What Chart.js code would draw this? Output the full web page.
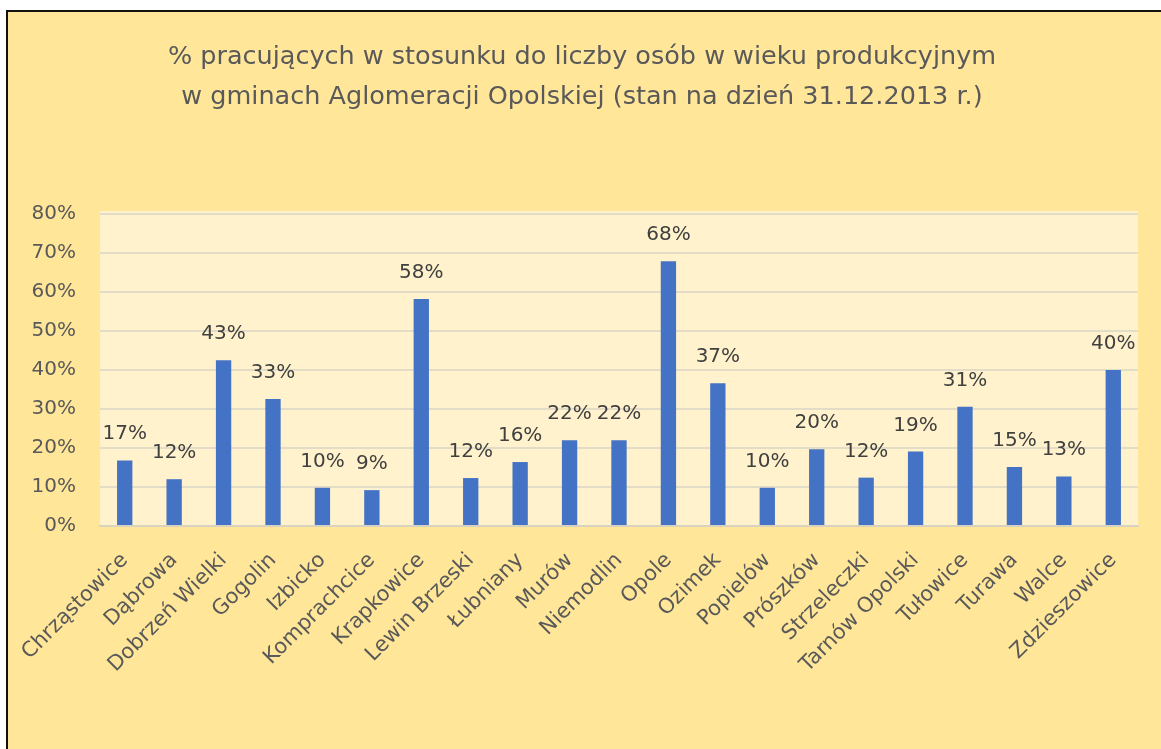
<!DOCTYPE html>
<html>
<head>
<meta charset="utf-8">
<script src="https://cdn.jsdelivr.net/npm/chart.js@4/dist/chart.umd.min.js"></script>
<style>
  html, body { margin: 0; padding: 0; background: #fff; overflow: hidden; }
  #frame {
    position: absolute; left: 6px; top: 10px;
    width: 1200px; height: 800px;
    border-left: 2px solid #111; border-top: 2px solid #111;
    background: #FFE699;
  }
  #chart { display: block; }
</style>
</head>
<body>
<div id="frame"><canvas id="chart" width="1153" height="737"></canvas></div>
<script>
// gminy Aglomeracji Opolskiej
const gminy = ['Chrząstowice', 'Dąbrowa', 'Dobrzeń Wielki', 'Gogolin', 'Izbicko', 'Komprachcice',
  'Krapkowice', 'Lewin Brzeski', 'Łubniany', 'Murów', 'Niemodlin', 'Opole', 'Ozimek', 'Popielów',
  'Prószków', 'Strzeleczki', 'Tarnów Opolski', 'Tułowice', 'Turawa', 'Walce', 'Zdzieszowice'];
// % pracujących
const pracujacy = [16.8, 12.0, 42.5, 32.6, 9.8, 9.2, 58.2, 12.3, 16.4, 22.0, 22.0, 67.9, 36.6, 9.8,
  19.7, 12.4, 19.1, 30.6, 15.1, 12.7, 40.0];
const tytul = ['% pracujących w stosunku do liczby osób w wieku produkcyjnym',
  'w gminach Aglomeracji Opolskiej (stan na dzień 31.12.2013 r.)'];
const yMax = 80, yStep = 10;

const font = 'DejaVu Sans';

// tlo obszaru wykresu
const plotBg = {
  id: 'plotBg',
  beforeDraw(chart) {
    const { ctx, chartArea: a } = chart;
    ctx.save();
    ctx.fillStyle = '#FFF2CC';
    ctx.fillRect(a.left, a.top - 3, a.right - a.left, a.bottom - a.top + 4);
    ctx.restore();
  }
};

// etykiety nad slupkami
const barLabels = {
  id: 'barLabels',
  afterDatasetsDraw(chart) {
    const ctx = chart.ctx;
    const meta = chart.getDatasetMeta(0);
    ctx.save();
    ctx.font = '20px "' + font + '"';
    ctx.fillStyle = '#404040';
    ctx.textAlign = 'center';
    ctx.textBaseline = 'alphabetic';
    meta.data.forEach((bar, i) => {
      ctx.fillText(Math.round(pracujacy[i]) + '%', bar.x, bar.y - 21);
    });
    ctx.restore();
  }
};

new Chart(document.getElementById('chart'), {
  type: 'bar',
  data: {
    labels: gminy,
    datasets: [{
      data: pracujacy,
      backgroundColor: '#4472C4',
      barPercentage: 0.31,
      categoryPercentage: 1
    }]
  },
  options: {
    responsive: false,
    animation: false,
    layout: { padding: { left: 18, right: 23, top: 0, bottom: 0 } },
    plugins: {
      legend: { display: false },
      tooltip: { enabled: false },
      title: {
        display: true,
        text: tytul,
        color: '#595959',
        font: { family: font, size: 25.5, weight: 'normal', lineHeight: 1.57 },
        padding: { top: 25, bottom: 97 }
      }
    },
    scales: {
      x: {
        grid: { display: false, drawTicks: false },
        border: { display: true, color: '#D9D2BF', width: 2 },
        ticks: {
          color: '#595959',
          font: { family: font, size: 21 },
          minRotation: 45, maxRotation: 45,
          padding: 22,
          autoSkip: false
        },
        afterFit(scale) {
          scale.height = 223;
          scale.paddingLeft = 0;
          scale.paddingRight = 0;
        }
      },
      y: {
        min: 0, max: yMax,
        grid: { color: '#E3DCC6', lineWidth: 2, drawTicks: false },
        border: { display: false },
        ticks: {
          stepSize: yStep,
          color: '#595959',
          font: { family: font, size: 20 },
          padding: 24,
          callback: v => v + '%'
        },
        afterFit(scale) { scale.width = 74; }
      }
    }
  },
  plugins: [plotBg, barLabels]
});
</script>
</body>
</html>
